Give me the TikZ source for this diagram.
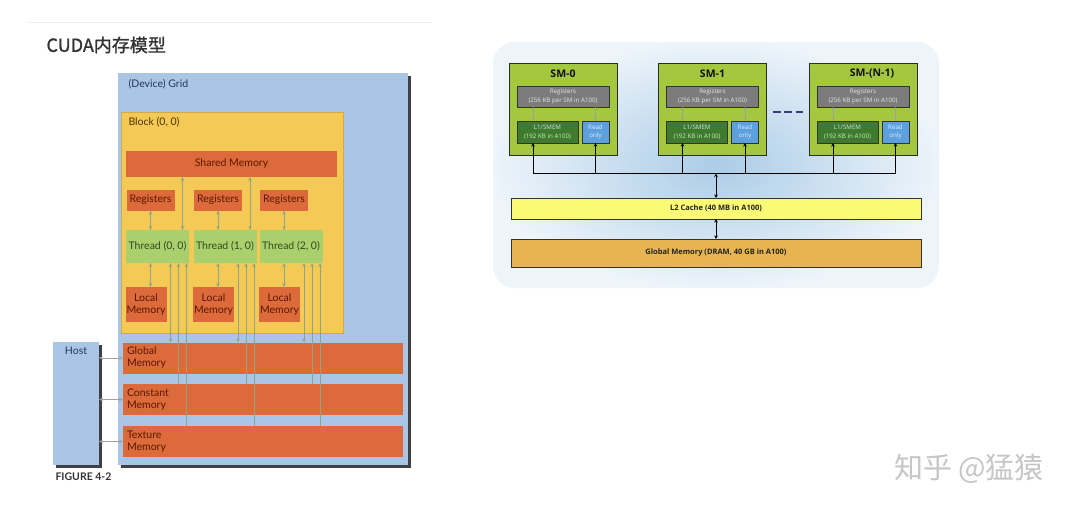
\documentclass[tikz,border=0pt]{standalone}
\usepackage{fontspec}
\setmainfont{Lato}
\newfontfamily\cjkfont{Noto Sans CJK SC}
\newfontfamily\cjktitle{Noto Sans CJK SC}[FakeBold=1.2]
\newfontfamily\slidefont{Open Sans}
\usetikzlibrary{arrows.meta,calc}

\definecolor{titlegray}{HTML}{333333}
\definecolor{topline}{HTML}{EEEEEE}
\definecolor{gridblue}{HTML}{A9C6E6}
\definecolor{gridtext}{HTML}{27365F}
\definecolor{shadowgray}{HTML}{404040}
\definecolor{blockyellow}{HTML}{F5C955}
\definecolor{blocktext}{HTML}{4A3500}
\definecolor{memorange}{HTML}{DC6A3A}
\definecolor{memtext}{HTML}{5A1800}
\definecolor{threadgreen}{HTML}{AAD06E}
\definecolor{threadtext}{HTML}{34481E}
\definecolor{linkgreen}{HTML}{8CA68C}
\definecolor{bginner}{HTML}{ABCCE7}
\definecolor{bgouter}{HTML}{EDF4FA}
\definecolor{smgreen}{HTML}{A3C73F}
\definecolor{smborder}{HTML}{2B2B2B}
\definecolor{smtext}{HTML}{111111}
\definecolor{darkline}{HTML}{333333}
\definecolor{reggray}{HTML}{7C7C7C}
\definecolor{regtext}{HTML}{E6E6E6}
\definecolor{smemgreen}{HTML}{3F7B2E}
\definecolor{smemtext}{HTML}{D2E8C8}
\definecolor{roblue}{HTML}{5CA0DE}
\definecolor{rotext}{HTML}{DDEFFF}
\definecolor{arrowgray}{HTML}{A0A0A0}
\definecolor{ltwoyellow}{HTML}{FBFA74}
\definecolor{dramorange}{HTML}{E8B452}
\definecolor{widetext}{HTML}{222222}
\definecolor{dashnavy}{HTML}{3B3B7B}
\definecolor{markgray}{HTML}{C6C6C6}

\tikzset{
  box/.style={rectangle,inner sep=0pt,outer sep=0pt},
  memtitle/.style={font=\fontsize{10.5}{12}\selectfont},
  orangebox/.style={box,fill=memorange,text=memtext,memtitle},
  threadbox/.style={box,fill=threadgreen,text=threadtext,memtitle,minimum width=63,minimum height=33},
  memrow/.style={orangebox,minimum height=31,text width=272,inner xsep=4pt,align=left},
  link/.style={draw=linkgreen,line width=0.9pt,>={Stealth[length=4pt,width=3.5pt]}},
  smbox/.style={box,draw=smborder,line width=0.8pt,fill=smgreen,minimum width=108,minimum height=92},
  smtitle/.style={font=\slidefont\bfseries\fontsize{10.5}{12}\selectfont,text=smtext},
  smalltext/.style={font=\slidefont\fontsize{6.2}{8.7}\selectfont,align=center},
  regbox/.style={box,smalltext,draw=darkline,line width=0.6pt,fill=reggray,text=regtext,minimum width=92,minimum height=21},
  smembox/.style={box,smalltext,draw=darkline,line width=0.6pt,fill=smemgreen,text=smemtext,minimum width=61,minimum height=22},
  robox/.style={box,smalltext,draw=darkline,line width=0.6pt,fill=roblue,text=rotext,minimum width=27,minimum height=22},
  busline/.style={draw=black,line width=0.9pt,>={Stealth[length=3.5pt,width=3.5pt]}},
  regarrow/.style={draw=arrowgray,line width=1pt,>={Stealth[length=3pt,width=3pt]}},
  wide/.style={box,draw=darkline,line width=0.8pt,minimum width=410,font=\slidefont\bfseries\fontsize{7.5}{9}\selectfont,text=widetext},
  ellipsis/.style={draw=dashnavy,line width=2.5pt,dash pattern=on 8pt off 3.5pt},
}

\begin{document}
\begin{tikzpicture}[x=1pt,y=-1pt]
  \useasboundingbox (0,0) rectangle (1080,514);
  \fill[white] (0,0) rectangle (1080,514);
  \draw[topline,line width=1pt] (28,22) -- (432,22);
  \node[anchor=west,font=\cjktitle\fontsize{18}{21}\selectfont,text=titlegray] (title) at (43,45) {CUDA内存模型};

  % grid, block and threads
  \node[box,fill=shadowgray,minimum width=290,minimum height=392] (gridshadow) at (265.5,271.5) {};
  \node[box,fill=gridblue,minimum width=290,minimum height=392] (grid) at (263,269) {};
  \node[anchor=west,memtitle,text=gridtext] (gridlabel) at ($(grid.north west)+(7,11)$) {(Device) Grid};
  \node[box,fill=blockyellow,draw=blockyellow!85!black,line width=0.4pt,minimum width=222,minimum height=221] (block) at (232,222.5) {};
  \node[anchor=west,memtitle,text=blocktext] (blocklabel) at ($(block.north west)+(4,10)$) {Block (0, 0)};
  \node[orangebox,minimum width=211,minimum height=26] (shared) at (231.5,164) {Shared Memory};
  \foreach \i/\x in {0/157.5,1/225,2/291}{
    \node[threadbox] (t\i) at (\x,246.5) {Thread (\i, 0)};
    \node[orangebox,minimum width=48,minimum height=21] (r\i) at ($(t\i)+(-7,-46.5)$) {Registers};
    \node[orangebox,minimum width=41,minimum height=35,align=center] (l\i) at ($(t\i)+(-11.5,58)$) {Local\\Memory};
  }

  % memories of the device
  \node[memrow] (gmem) at (263,358) {Global\\Memory};
  \node[memrow] (cmem) at (263,399.5) {Constant\\Memory};
  \node[memrow] (tmem) at (263,441.5) {Texture\\Memory};
  \node[box,fill=shadowgray,minimum width=46,minimum height=123] (hostshadow) at (78.5,406) {};
  \node[box,fill=gridblue,minimum width=46,minimum height=123] (host) at (76,403.5) {};
  \node[memtitle,text=gridtext] (hostlabel) at ($(host.north)+(0,9)$) {Host};
  \node[anchor=west,font=\bfseries\fontsize{10.5}{12}\selectfont,text=titlegray] (figlabel) at (52,477) {FIGURE 4-2};

  \begin{scope}[link]
    \foreach \i in {0,1,2}{
      \draw[<->] (r\i.south) -- (r\i.south |- t\i.north);
      \draw[<->] (r\i.south |- t\i.south) -- (r\i.south |- l\i.north);
      \coordinate (ga\i) at ($(t\i.south)+(13,0)$);
      \coordinate (ca\i) at ($(t\i.south)+(21,0)$);
      \coordinate (ta\i) at ($(t\i.south)+(29,0)$);
      \draw[<->] (ga\i) -- (ga\i |- gmem.north);
      \draw[<-] (ca\i) -- (ca\i |- cmem.north);
      \draw[<-] (ta\i) -- (ta\i |- tmem.north);
    }
    \foreach \i in {0,1}{
      \coordinate (sa\i) at ($(t\i.north)+(25,0)$);
      \draw[<->] (sa\i |- shared.south) -- (sa\i);
    }
    \foreach \m in {gmem,cmem,tmem}
      \draw[<->,draw=arrowgray] (host.east |- \m) -- (\m.west);
  \end{scope}

  % streaming multiprocessors
  \node[box,rounded corners=22pt,inner color=bginner,outer color=bgouter,minimum width=446,minimum height=246] (panel) at (716,165) {};
  \foreach \n/\x/\smlabel/\dx in {0/563/SM-0/0,1/712.5/SM-1/0,2/863/SM-(N-1)/9}{
    \node[smbox] (sm\n) at (\x,109) {};
    \node[smtitle] (smt\n) at ($(sm\n.north)+(\dx,11)$) {\smlabel};
    \node[regbox] (reg\n) at ($(sm\n.north west)+(54,33.5)$) {Registers\\(256 KB per SM in A100)};
    \node[smembox] (l1\n) at ($(sm\n.north west)+(38.5,69)$) {L1/SMEM\\(192 KB in A100)};
    \node[robox] (ro\n) at ($(sm\n.north west)+(86.5,69)$) {Read\\only};
    \coordinate (la\n) at ($(l1\n.south west)+(16,0)$);
    \draw[regarrow,<->] (la\n |- reg\n.south) -- (la\n |- l1\n.north);
    \draw[regarrow,<->] (reg\n.south -| ro\n) -- (ro\n.north);
  }
  \draw[ellipsis] ($(sm1.east)+(6,3)$) -- ($(sm2.west)+(-6,3)$);

  \node[wide,fill=ltwoyellow,minimum height=21] (ltwo) at (716,208.5) {L2 Cache (40 MB in A100)};
  \node[wide,fill=dramorange,minimum height=28] (dram) at (716,253) {Global Memory (DRAM, 40 GB in A100)};
  \coordinate (bus) at ($(ltwo.north)+(0,-24.5)$);
  \begin{scope}[busline]
    \foreach \n in {0,1,2}{
      \draw[<-] (la\n) -- (la\n |- bus);
      \draw[<-] (ro\n.south) -- (ro\n.south |- bus);
    }
    \draw (la0 |- bus) -- (ro2.south |- bus);
    \draw[<->] (bus) -- (ltwo.north);
    \draw[<->] (ltwo.south) -- (dram.north);
  \end{scope}

  \node[font=\cjkfont\fontsize{29}{31}\selectfont,text=markgray] (mark) at (969,469) {知乎 @猛猿};
\end{tikzpicture}
\end{document}
